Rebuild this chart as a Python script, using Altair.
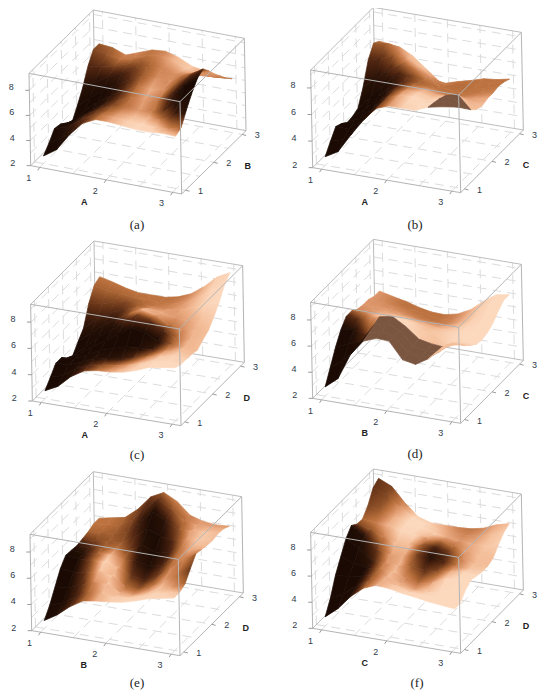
import altair as alt
import pandas as pd

# Surface heights: rows front (r=0) to back, columns left to right
Z_A = [
 [2.6,3.3,4.7,5.8,6.3,6.3,6.2,6.1,6.1,6.2,6.15],
 [3.2,3.8,4.8,5.7,6.2,6.2,6.1,6.0,6.0,6.1,6.4],
 [3.9,4.2,5.0,5.6,6.0,6.1,6.0,6.0,6.2,6.7,7.4],
 [3.8,4.2,5.0,5.6,6.0,6.2,6.1,6.2,6.5,7.4,8.3],
 [3.4,4.1,4.9,5.6,6.1,6.5,6.5,6.6,7.2,8.2,9.0],
 [3.0,4.2,5.1,5.8,6.4,6.9,6.9,7.0,7.7,8.6,9.3],
 [3.9,4.8,5.6,6.2,6.8,7.3,7.3,7.3,7.9,8.4,8.7],
 [4.9,5.6,6.2,6.7,7.2,7.6,7.6,7.4,7.6,7.9,8.0],
 [6.2,6.4,6.6,7.0,7.4,7.7,7.6,7.2,7.1,7.2,7.4],
 [7.1,6.9,6.7,7.0,7.4,7.6,7.4,6.9,6.7,6.7,6.8],
 [7.1,7.0,6.6,7.0,7.4,7.5,7.2,6.7,6.5,6.2,6.3]]
Z_B = [
 [2.65,3.2,4.6,5.9,6.95,7.3,7.3,7.3,7.7,7.9,8.05],
 [3.4,3.7,4.8,5.9,6.9,7.3,7.3,7.3,7.6,7.9,7.6],
 [4.1,4.1,4.9,5.9,6.9,7.3,7.3,7.2,7.5,7.8,7.1],
 [3.9,4.2,4.9,6.0,6.9,7.2,7.2,7.0,7.3,7.6,6.6],
 [3.55,4.1,5.0,6.2,6.9,7.1,7.0,6.8,6.9,6.9,6.2],
 [3.6,4.3,5.4,6.4,6.9,6.9,6.7,6.4,6.4,6.3,6.05],
 [3.8,4.8,5.9,6.8,7.0,6.7,6.3,6.0,6.0,6.1,6.2],
 [5.0,5.8,6.6,7.2,7.1,6.5,6.0,5.8,5.8,6.0,6.2],
 [6.6,6.9,7.3,7.3,6.8,6.1,5.6,5.6,5.7,6.0,6.3],
 [7.45,7.6,7.5,7.0,6.2,5.4,5.2,5.4,5.7,5.9,6.2],
 [7.2,7.1,6.4,5.5,5.05,4.86,5.15,5.4,5.7,5.8,6.0]]
Z_C = [
 [2.6,3.1,4.0,4.6,4.8,4.85,5.0,5.3,5.7,5.85,6.0],
 [3.2,3.5,4.2,4.6,4.8,4.9,5.1,5.4,5.7,5.85,5.8],
 [3.85,3.9,4.3,4.7,4.9,5.0,5.3,5.5,5.7,5.8,5.8],
 [3.85,3.9,4.4,4.9,5.2,5.5,5.6,5.6,5.7,5.8,5.75],
 [3.4,3.9,4.6,5.2,5.9,6.5,6.3,5.8,5.7,5.7,5.65],
 [3.15,4.0,4.9,5.6,6.4,7.1,6.8,6.1,5.8,5.8,6.0],
 [3.8,4.6,5.4,6.0,6.6,7.1,6.8,6.2,6.0,6.1,6.3],
 [4.4,5.2,5.9,6.3,6.6,6.7,6.6,6.3,6.3,6.5,6.9],
 [5.85,6.0,6.3,6.5,6.5,6.4,6.4,6.5,6.8,7.2,7.6],
 [6.8,6.6,6.5,6.4,6.4,6.3,6.4,6.7,7.2,7.9,8.5],
 [7.04,6.8,6.5,6.3,6.3,6.3,6.5,6.9,7.6,8.5,9.0]]
Z_D = [
 [2.7,3.5,5.5,6.7,7.1,7.05,5.8,5.6,6.2,7.2,7.6],
 [3.8,4.4,5.6,6.9,7.2,7.0,5.9,5.7,6.1,7.0,7.2],
 [4.9,5.3,5.7,7.1,7.4,7.0,6.0,5.8,5.9,6.7,6.7],
 [5.8,6.0,5.75,7.3,7.5,6.9,6.1,5.9,5.8,6.3,6.3],
 [6.4,6.4,6.6,6.9,7.0,6.7,6.3,6.0,5.9,6.0,5.95],
 [6.4,6.4,6.4,6.5,6.5,6.3,6.0,5.8,5.8,5.8,5.87],
 [6.1,6.1,6.2,6.2,6.1,5.9,5.7,5.6,5.7,5.8,6.0],
 [6.0,6.0,6.0,5.9,5.7,5.5,5.4,5.5,5.7,6.0,6.3],
 [6.0,5.9,5.8,5.6,5.4,5.2,5.1,5.4,5.8,6.4,6.8],
 [5.8,5.8,5.5,5.3,5.1,4.9,5.0,5.4,6.0,6.8,7.2],
 [5.8,5.56,5.35,5.06,4.86,4.83,5.05,5.55,6.36,7.03,7.2]]
Z_E = [
 [2.6,3.2,4.0,4.6,4.76,4.86,5.0,5.27,5.6,5.8,6.0],
 [3.35,3.7,4.3,4.8,4.9,4.8,4.9,5.2,5.5,5.8,6.0],
 [4.33,4.4,4.8,5.2,5.2,4.7,4.7,5.0,5.5,5.9,6.25],
 [5.3,5.2,5.3,5.6,5.4,4.75,4.7,5.1,5.7,6.3,7.0],
 [5.9,5.8,5.8,5.9,5.6,5.2,5.0,5.4,6.2,7.0,7.7],
 [5.86,5.8,5.9,6.0,5.8,5.9,5.6,5.9,6.7,7.3,7.6],
 [5.8,5.8,5.9,6.0,6.1,6.7,6.3,6.4,7.0,7.4,7.5],
 [5.9,5.9,6.0,6.1,6.7,7.5,7.1,6.9,7.2,7.4,7.45],
 [6.0,6.1,6.2,6.5,7.4,8.4,7.8,7.3,7.4,7.5,7.55],
 [6.2,6.3,6.4,7.0,8.1,8.9,8.3,7.6,7.4,7.4,7.5],
 [6.2,6.4,6.6,7.4,8.5,9.0,8.5,7.6,7.3,7.2,7.27]]
Z_F = [
 [2.7,3.5,4.6,5.4,5.8,5.7,5.5,5.37,5.2,5.1,5.0],
 [3.7,4.2,5.0,5.5,5.7,5.5,5.2,5.1,5.1,5.0,5.0],
 [5.06,5.1,5.3,5.6,5.6,5.2,4.9,4.9,5.1,5.3,5.6],
 [6.04,5.7,5.5,5.6,5.5,5.2,5.0,5.2,5.6,5.9,5.94],
 [7.0,6.4,5.6,5.6,5.6,5.7,5.6,5.6,5.8,5.9,5.8],
 [7.57,6.9,6.0,5.8,5.9,6.2,6.2,6.0,5.8,5.7,5.7],
 [7.25,7.0,6.6,6.3,6.3,6.5,6.5,6.2,5.9,5.7,5.7],
 [7.2,7.1,7.0,6.8,6.7,6.6,6.5,6.3,6.1,5.9,5.9],
 [7.8,7.6,7.3,7.0,6.8,6.5,6.4,6.3,6.2,6.2,6.5],
 [8.75,8.4,7.6,7.0,6.6,6.4,6.3,6.3,6.4,6.6,7.0],
 [9.04,8.6,7.5,6.6,6.3,6.3,6.3,6.36,6.57,7.0,7.26]]

# Shade of each facet: 0 dark .. 9 pale, b = muted brown
S_A = ["1124678887","1234678862","1234567520","1123456300","1112477410",
       "1012357555","1112456556","2233456666","3455567765","4565568755"]
S_B = ["00125788bb","00125888bb","00135887bb","00124777b7",
       "0012466667","1112355567","1123555556","2247755555","3478754555","5677655555"]
S_C = ["1124678888","1122346888","1111001587","1110000377","1110000267",
       "1112683477","1223686667","2333566678","4445556788","5555555678"]
S_D = ["001bbbbb77","002bbbbb77","013bbbbb77","1368887788","3688877888",
       "5777777888","6666667888","6665556788","6555556788","6555556788"]
S_E = ["1236788888","0136877786","0158656773","0169533563","0279312466",
       "1366211367","2454211387","4443112587","5543113677","5543365666"]
S_F = ["0036788888","0026778888","0027756888","0038644788","0148521478",
       "2358521377","5678733577","4688876677","3489876678","3478765567"]

AXES = [("A","B"),("A","C"),("A","D"),("B","C"),("B","D"),("C","D")]
CAPTIONS = ["(a)","(b)","(c)","(d)","(e)","(f)"]
CAPTION_X = [137,415,137,415,137,417]
CAPTION_Y = [225,225,455,454,683,683]
Z_TICKS = [2,4,6,8]
XY_TICKS = [1,2,3]
FRAMES = [
 (0,0,(92,497),(545,582),(87,220),(280,30)),
 (275,0,(113,503),(557,578),(107,210),(295,22)),
 (0,235,(97,498),(543,572),(92,208),(282,18)),
 (275,235,(113,490),(557,565),(107,202),(295,13)),
 (0,465,(95,497),(540,572),(90,208),(280,20)),
 (275,465,(113,490),(557,565),(107,202),(295,12))]
SURFACES = [Z_A,Z_B,Z_C,Z_D,Z_E,Z_F]
SHADES = [S_A,S_B,S_C,S_D,S_E,S_F]
RAMP = ["#1a0a03","#36180a","#552812","#78401e","#99582c","#b96f3b",
        "#d2885a","#e8a67c","#f5c19d","#fcd8bd"]
MUTED = "#7a5540"
CONTRAST = 1.35
Z_MIN, Z_SPAN = 2.0, 7.35
INSET = 0.06

def ramp_color(v):
    v = max(0.0,min(9.0,v))
    i = min(8,int(v)); f = v-i
    a,b = RAMP[i],RAMP[i+1]
    ch = [round(int(a[k:k+2],16)*(1-f)+int(b[k:k+2],16)*f) for k in (1,3,5)]
    return "#%02x%02x%02x"%tuple(ch)

def shading(ring,vals):
    """A linear gradient across one facet, fitted to its four corner shades."""
    xs=[q[0] for q in ring]; ys=[q[1] for q in ring]
    x0,x1,y0,y1=min(xs),max(xs),min(ys),max(ys)
    pts=[((q[0]-x0)/max(x1-x0,1e-6),(q[1]-y0)/max(y1-y0,1e-6)) for q in ring]
    mx=sum(p[0] for p in pts)/4; my=sum(p[1] for p in pts)/4; mv=sum(vals)/4
    sxx=sum((p[0]-mx)**2 for p in pts)+1e-6; syy=sum((p[1]-my)**2 for p in pts)+1e-6
    sxy=sum((p[0]-mx)*(p[1]-my) for p in pts)
    sxv=sum((p[0]-mx)*(v-mv) for p,v in zip(pts,vals)); syv=sum((p[1]-my)*(v-mv) for p,v in zip(pts,vals))
    det=sxx*syy-sxy*sxy+1e-9
    b=(sxv*syy-syv*sxy)/det; c=(syv*sxx-sxv*sxy)/det
    norm=(b*b+c*c)**.5
    if norm<0.05:
        return ramp_color(mv)
    dx,dy=b/norm,c/norm
    proj=[(p[0]-mx)*dx+(p[1]-my)*dy for p in pts]
    lo,hi=min(proj),max(proj)
    vlo,vhi=mv+norm*lo,mv+norm*hi
    n=max(2,int(abs(vhi-vlo))+2)
    stops=[{"offset":k/(n-1),"color":ramp_color(vlo+(vhi-vlo)*k/(n-1))} for k in range(n)]
    return {"gradient":"linear","x1":mx+dx*lo,"y1":my+dy*lo,"x2":mx+dx*hi,"y2":my+dy*hi,"stops":stops}

features, box_back, box_front, grid, ticks, labels = [], [], [], [], [], []
seg = 0
for p,(ox,oy,flb,frb,flt,blt) in enumerate(FRAMES):
    ex = ((frb[0]-flb[0])/3,(frb[1]-flb[1])/3)
    ey = ((blt[0]-flt[0])/3,(blt[1]-flt[1])/3)
    ez = ((flt[0]-flb[0])/3,(flt[1]-flb[1])/3)
    o = (ox+flb[0]/3, oy+flb[1]/3)
    def P(t,u,z):
        h = (z-Z_MIN)/Z_SPAN
        return (o[0]+t*ex[0]+u*ey[0]+h*ez[0], o[1]+t*ex[1]+u*ey[1]+h*ez[1])
    S = lambda i: INSET+(1-2*INSET)*i/10
    Zg, Sh = SURFACES[p], SHADES[p]
    def corner(j,i):
        near=[Sh[b][a] for b in (j-1,j) for a in (i-1,i) if 0<=b<10 and 0<=a<10 and Sh[b][a]!="b"]
        v=sum(int(c) for c in near)/len(near) if near else 5.0
        return max(0.0,min(9.0,4.5+(v-4.5)*CONTRAST))
    facets = []
    for j in range(10):
        for i in range(10):
            ring = [P(S(i),S(j),Zg[j][i]),P(S(i+1),S(j),Zg[j][i+1]),
                    P(S(i+1),S(j+1),Zg[j+1][i+1]),P(S(i),S(j+1),Zg[j+1][i])]
            if Sh[j][i]=="b":
                paint=MUTED
            else:
                paint=shading(ring,[corner(j,i),corner(j,i+1),corner(j+1,i+1),corner(j+1,i)])
            ring=ring+[ring[0]]
            facets.append((j-i,ring,paint))
    facets.sort(key=lambda f:-f[0])
    for _,ring,c in facets:
        features.append({"type":"Feature","properties":{"c":c,"e":(dict(c) if isinstance(c,dict) else c)},
                         "geometry":{"type":"Polygon","coordinates":[[list(q) for q in ring]]}})
    ZT = Z_MIN+Z_SPAN
    def add(lst,a,b):
        global seg
        lst.append({"x":a[0],"y":a[1],"seg":seg,"n":0}); lst.append({"x":b[0],"y":b[1],"seg":seg,"n":1}); seg+=1
    add(box_back,P(0,1,Z_MIN),P(0,1,ZT)); add(box_back,P(0,1,ZT),P(1,1,ZT))
    add(box_back,P(0,0,ZT),P(0,1,ZT)); add(box_back,P(0,1,Z_MIN),P(1,1,Z_MIN)); add(box_back,P(0,0,Z_MIN),P(0,1,Z_MIN))
    add(box_front,P(0,0,ZT),P(1,0,ZT)); add(box_front,P(1,0,ZT),P(1,0,Z_MIN)); add(box_front,P(1,0,ZT),P(1,1,ZT))
    add(box_front,P(0,0,ZT),P(0,0,Z_MIN)); add(box_front,P(0,0,Z_MIN),P(1,0,Z_MIN)); add(box_front,P(1,0,Z_MIN),P(1,1,Z_MIN))
    add(box_front,P(1,1,ZT),P(1,1,Z_MIN))
    for k in (0,.25,.5,.75,1):
        v=S(k*10)
        add(grid,P(v,1,Z_MIN),P(v,1,ZT)); add(grid,P(0,v,Z_MIN),P(0,v,ZT))
        add(grid,P(v,0,Z_MIN),P(v,1,Z_MIN)); add(grid,P(0,v,Z_MIN),P(1,v,Z_MIN))
    for z in (3,4,5,6,7,8,9):
        add(grid,P(0,1,z),P(1,1,z)); add(grid,P(0,0,z),P(0,1,z))
    def label(a,dx,dy,txt,kind):
        labels.append({"x":a[0]+dx,"y":a[1]+dy,"t":txt,"k":kind})
    for z in Z_TICKS:
        a=P(0,0,z); add(ticks,a,(a[0]-4,a[1])); label(a,-18,-3,str(z),"tick")
    for n,v in enumerate(XY_TICKS):
        sv=S(n*5)
        a=P(sv,0,Z_MIN); add(ticks,a,(a[0]-2,a[1]+3)); label(a,-11,11,str(v),"tick")
        b=P(1,sv,Z_MIN); add(ticks,b,(b[0]+4,b[1]+1)); label(b,15,1,str(v),"tick")
    label(P(S(5),0,Z_MIN),-22,22,AXES[p][0],"axis")
    label(P(1,S(5),Z_MIN),34,4,AXES[p][1],"axis")
    labels.append({"x":CAPTION_X[p],"y":CAPTION_Y[p],"t":CAPTIONS[p],"k":"cap"})

X = alt.X("x:Q",scale=alt.Scale(domain=[8,542],nice=False,zero=False),axis=None)
Y = alt.Y("y:Q",scale=alt.Scale(domain=[692,8],nice=False,zero=False),axis=None)

def lines(rows,color,width,dash=None):
    kw = {"strokeDash":dash} if dash else {}
    return alt.Chart(pd.DataFrame(rows)).mark_line(color=color,strokeWidth=width,**kw).encode(
        x=X,y=Y,detail="seg:N",order="n:Q")

surface = alt.Chart(alt.Data(values=features)).mark_geoshape(strokeWidth=0.7).encode(
    fill=alt.Fill("properties.c:N",scale=None),stroke=alt.Stroke("properties.e:N",scale=None)
).project(type="identity",scale=1,translate=[-8,-8])

ldf = pd.DataFrame(labels)
def texts(kind,**kw):
    return alt.Chart(ldf[ldf.k==kind]).mark_text(align="center",baseline="middle",**kw).encode(x=X,y=Y,text="t:N")

chart = alt.layer(
    lines(grid,"#dcdcdc",1,[9,6]),
    lines(box_back,"#bdbdbd",1),
    surface,
    lines(box_front,"#b4b4b4",1),
    lines(ticks,"#9a9a9a",1),
    texts("tick",font="Liberation Sans",fontSize=9,color="#2f3d4d"),
    texts("axis",font="Liberation Sans",fontSize=9,fontWeight="bold",color="#222222"),
    texts("cap",font="Liberation Serif",fontSize=13,color="#222222"),
).properties(width=534,height=684,padding=0,autosize=alt.AutoSizeParams(type="none")
).configure_view(stroke=None)

chart.save("out.html",embed_options={"renderer":"svg","actions":False})
